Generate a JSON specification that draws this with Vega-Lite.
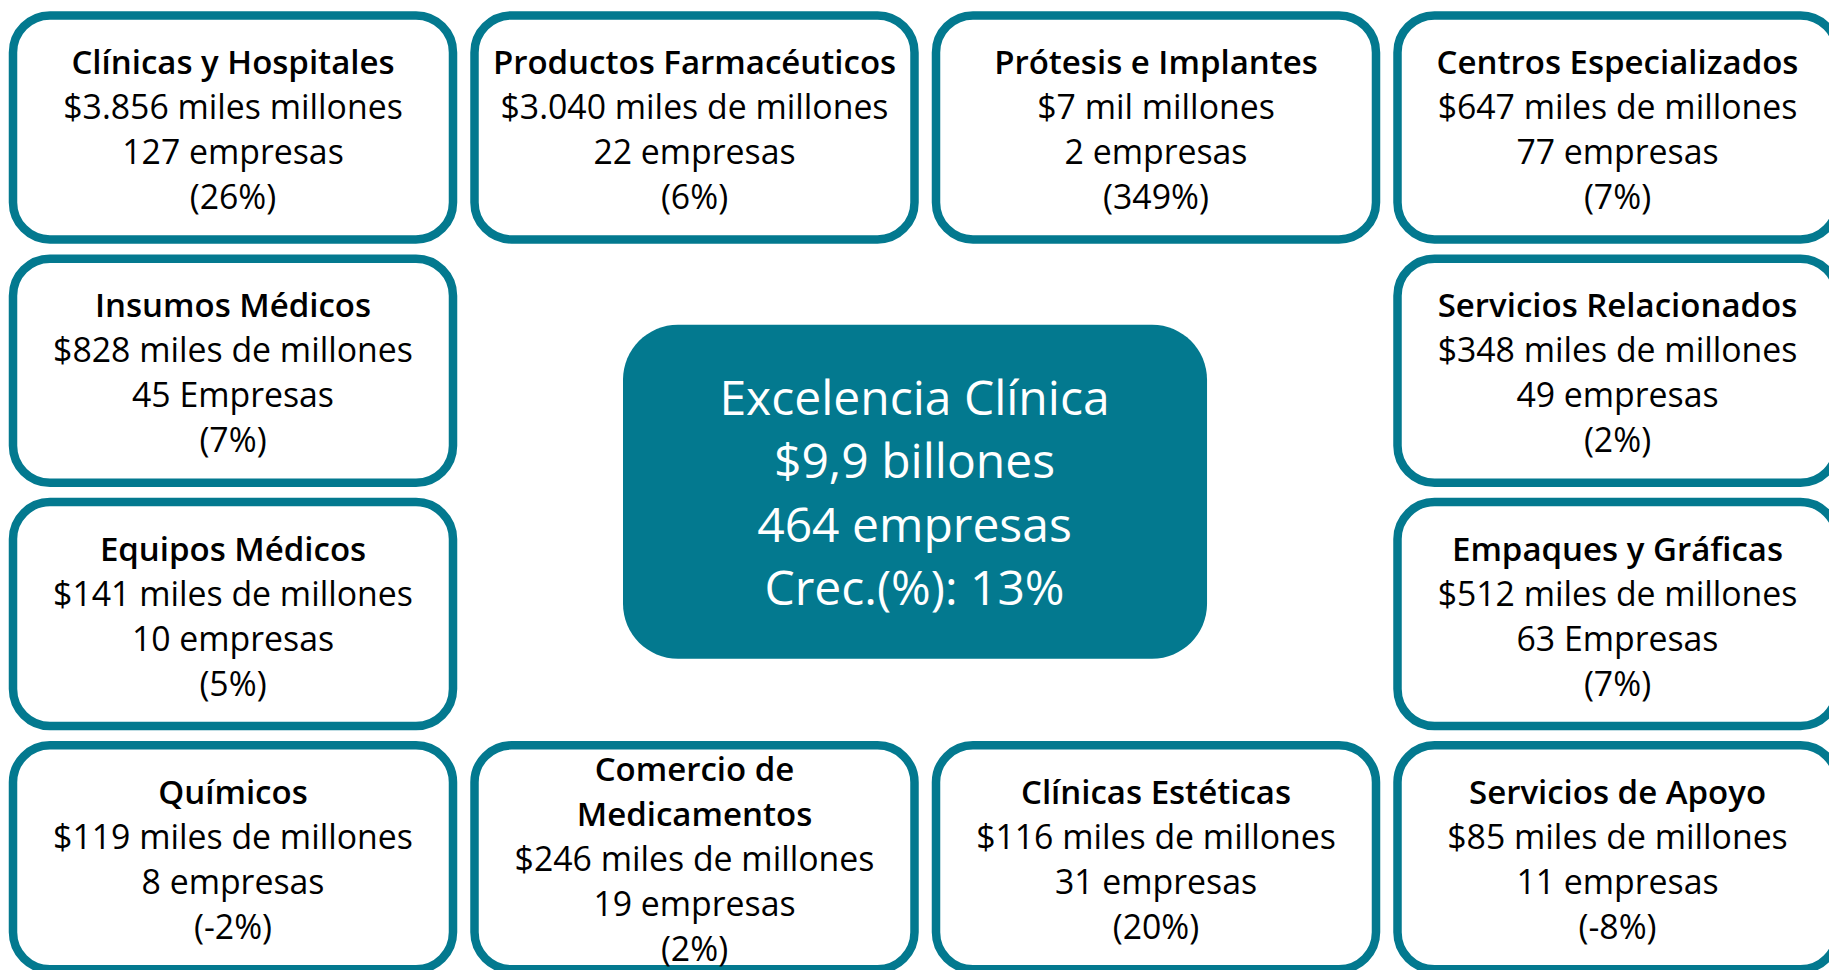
{
  "$schema": "https://vega.github.io/schema/vega-lite/v6.json",
  "width": 1829,
  "height": 970,
  "autosize": {"type": "none"},
  "padding": 0,
  "background": "white",
  "config": {"view": {"stroke": null}, "text": {"font": "Open Sans"}},
  "datasets": {
    "sectores": [
      {"sector": "Clínicas y Hospitales", "ventas": "$3.856 miles millones", "empresas": "127 empresas", "crecimiento": "(26%)", "col": 1, "fila": 1, "lineasTitulo": 1},
      {"sector": "Productos Farmacéuticos", "ventas": "$3.040 miles de millones", "empresas": "22 empresas", "crecimiento": "(6%)", "col": 2, "fila": 1, "lineasTitulo": 1},
      {"sector": "Prótesis e Implantes", "ventas": "$7 mil millones", "empresas": "2 empresas", "crecimiento": "(349%)", "col": 3, "fila": 1, "lineasTitulo": 1},
      {"sector": "Centros Especializados", "ventas": "$647 miles de millones", "empresas": "77 empresas", "crecimiento": "(7%)", "col": 4, "fila": 1, "lineasTitulo": 1},
      {"sector": "Insumos Médicos", "ventas": "$828 miles de millones", "empresas": "45 Empresas", "crecimiento": "(7%)", "col": 1, "fila": 2, "lineasTitulo": 1},
      {"sector": "Servicios Relacionados", "ventas": "$348 miles de millones", "empresas": "49 empresas", "crecimiento": "(2%)", "col": 4, "fila": 2, "lineasTitulo": 1},
      {"sector": "Equipos Médicos", "ventas": "$141 miles de millones", "empresas": "10 empresas", "crecimiento": "(5%)", "col": 1, "fila": 3, "lineasTitulo": 1},
      {"sector": "Empaques y Gráficas", "ventas": "$512 miles de millones", "empresas": "63 Empresas", "crecimiento": "(7%)", "col": 4, "fila": 3, "lineasTitulo": 1},
      {"sector": "Químicos", "ventas": "$119 miles de millones", "empresas": "8 empresas", "crecimiento": "(-2%)", "col": 1, "fila": 4, "lineasTitulo": 1},
      {"sector": "Comercio de\nMedicamentos", "ventas": "$246 miles de millones", "empresas": "19 empresas", "crecimiento": "(2%)", "col": 2, "fila": 4, "lineasTitulo": 2},
      {"sector": "Clínicas Estéticas", "ventas": "$116 miles de millones", "empresas": "31 empresas", "crecimiento": "(20%)", "col": 3, "fila": 4, "lineasTitulo": 1},
      {"sector": "Servicios de Apoyo", "ventas": "$85 miles de millones", "empresas": "11 empresas", "crecimiento": "(-8%)", "col": 4, "fila": 4, "lineasTitulo": 1}
    ],
    "centro": [
      {"titulo": "Excelencia Clínica", "ventas": "$9,9 billones", "empresas": "464 empresas", "crecimiento": "Crec.(%): 13%", "colDesde": 2, "colHasta": 3, "filaDesde": 2, "filaHasta": 3}
    ]
  },
  "resolve": {"scale": {"yOffset": "independent"}},
  "layer": [
    {
      "data": {"name": "sectores"},
      "mark": {"type": "rect", "fill": "white", "stroke": "#03798F", "strokeWidth": 8.5, "cornerRadius": 37},
      "encoding": {
        "x": {"field": "col", "type": "ordinal", "axis": null,
              "scale": {"type": "band", "domain": [1, 2, 3, 4], "range": [13, 1837.5], "paddingInner": 0.04659, "paddingOuter": 0}},
        "y": {"field": "fila", "type": "ordinal", "axis": null,
              "scale": {"type": "band", "domain": [1, 2, 3, 4], "range": [15.45, 969.35], "paddingInner": 0.0793, "paddingOuter": 0}}
      }
    },
    {
      "data": {"name": "centro"},
      "mark": {"type": "rect", "fill": "#03798F", "cornerRadius": 55},
      "encoding": {
        "x": {"field": "colDesde", "type": "ordinal", "bandPosition": 0.3375},
        "x2": {"field": "colHasta", "bandPosition": 0.616},
        "y": {"field": "filaDesde", "type": "ordinal", "bandPosition": 0.295},
        "y2": {"field": "filaHasta", "bandPosition": 0.70}
      }
    },
    {
      "data": {"name": "sectores"},
      "mark": {"type": "text", "fontSize": 33, "fontWeight": 600, "lineBreak": "\n", "lineHeight": 45, "fill": "#000000", "align": "center", "baseline": "middle"},
      "encoding": {
        "x": {"field": "col", "type": "ordinal"},
        "y": {"field": "fila", "type": "ordinal"},
        "yOffset": {"field": "lineasTitulo", "type": "quantitative", "scale": {"domain": [1, 2], "range": [48.5, 26]}},
        "text": {"field": "sector", "type": "nominal"}
      }
    },
    {
      "data": {"name": "sectores"},
      "mark": {"type": "text", "fontSize": 33.8, "fill": "#000000", "align": "center", "baseline": "middle"},
      "encoding": {
        "x": {"field": "col", "type": "ordinal"},
        "y": {"field": "fila", "type": "ordinal"},
        "yOffset": {"field": "lineasTitulo", "type": "quantitative", "scale": {"domain": [1, 2], "range": [93.5, 116]}},
        "text": {"field": "ventas", "type": "nominal"}
      }
    },
    {
      "data": {"name": "sectores"},
      "mark": {"type": "text", "fontSize": 33.8, "fill": "#000000", "align": "center", "baseline": "middle"},
      "encoding": {
        "x": {"field": "col", "type": "ordinal"},
        "y": {"field": "fila", "type": "ordinal"},
        "yOffset": {"field": "lineasTitulo", "type": "quantitative", "scale": {"domain": [1, 2], "range": [138.5, 161]}},
        "text": {"field": "empresas", "type": "nominal"}
      }
    },
    {
      "data": {"name": "sectores"},
      "mark": {"type": "text", "fontSize": 33.8, "fill": "#000000", "align": "center", "baseline": "middle"},
      "encoding": {
        "x": {"field": "col", "type": "ordinal"},
        "y": {"field": "fila", "type": "ordinal"},
        "yOffset": {"field": "lineasTitulo", "type": "quantitative", "scale": {"domain": [1, 2], "range": [183.5, 206]}},
        "text": {"field": "crecimiento", "type": "nominal"}
      }
    },
    {
      "data": {"name": "centro"},
      "mark": {"type": "text", "fontSize": 48, "fill": "white", "align": "center", "baseline": "middle", "yOffset": -82.25},
      "encoding": {
        "x": {"field": "colDesde", "type": "ordinal", "bandPosition": 1},
        "y": {"field": "filaDesde", "type": "ordinal", "bandPosition": 1},
        "text": {"field": "titulo", "type": "nominal"}
      }
    },
    {
      "data": {"name": "centro"},
      "mark": {"type": "text", "fontSize": 48, "fill": "white", "align": "center", "baseline": "middle", "yOffset": -18.75},
      "encoding": {
        "x": {"field": "colDesde", "type": "ordinal", "bandPosition": 1},
        "y": {"field": "filaDesde", "type": "ordinal", "bandPosition": 1},
        "text": {"field": "ventas", "type": "nominal"}
      }
    },
    {
      "data": {"name": "centro"},
      "mark": {"type": "text", "fontSize": 48, "fill": "white", "align": "center", "baseline": "middle", "yOffset": 44.75},
      "encoding": {
        "x": {"field": "colDesde", "type": "ordinal", "bandPosition": 1},
        "y": {"field": "filaDesde", "type": "ordinal", "bandPosition": 1},
        "text": {"field": "empresas", "type": "nominal"}
      }
    },
    {
      "data": {"name": "centro"},
      "mark": {"type": "text", "fontSize": 48, "fill": "white", "align": "center", "baseline": "middle", "yOffset": 108.25},
      "encoding": {
        "x": {"field": "colDesde", "type": "ordinal", "bandPosition": 1},
        "y": {"field": "filaDesde", "type": "ordinal", "bandPosition": 1},
        "text": {"field": "crecimiento", "type": "nominal"}
      }
    }
  ]
}
